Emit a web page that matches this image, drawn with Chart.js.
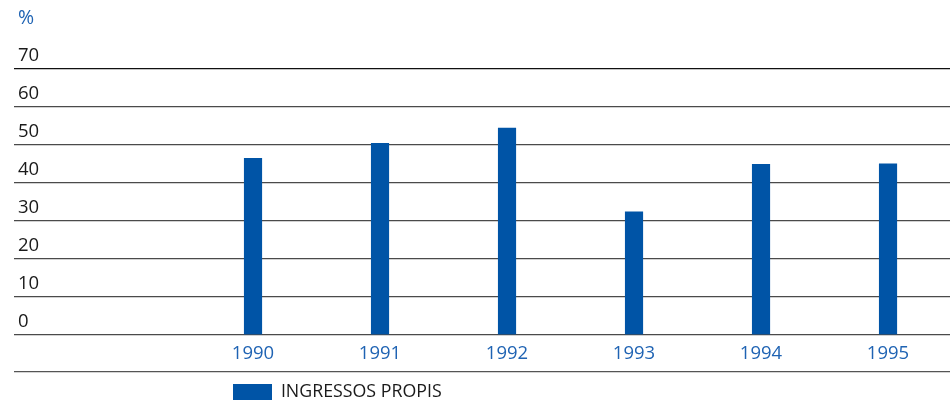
<!DOCTYPE html>
<html>
<head>
<meta charset="utf-8">
<script src="https://cdn.jsdelivr.net/npm/chart.js@4/dist/chart.umd.min.js"></script>
<style>
  html, body { margin: 0; padding: 0; background: #ffffff; }
  #wrap { width: 950px; height: 411px; position: relative; }
</style>
</head>
<body>
<div id="wrap"><canvas id="c"></canvas></div>
<script>
// ---- data ----
const years = [1990, 1991, 1992, 1993, 1994, 1995];
const ingressosPropis = [46.4, 50.3, 54.3, 32.3, 44.8, 44.9];
const seriesLabel = 'INGRESSOS PROPIS';
const yTicks = [0, 10, 20, 30, 40, 50, 60, 70];
const unitLabel = '%';

const BAR = '#0054a6';
const BLUE_TXT = '#1f63b3';
const FONT = '"Open Sans", "Noto Sans", sans-serif';

const points = years.map((y, i) => ({ x: y, y: ingressosPropis[i] }));

const extras = {
  id: 'extras',
  afterLayout(chart) {
    const lg = chart.legend;
    if (lg) { lg.left += 207.5; }
  },
  afterDraw(chart) {
    const ctx = chart.ctx;
    const ca = chart.chartArea;
    const xs = chart.scales.x;
    ctx.save();
    // bottom rule under year labels
    ctx.strokeStyle = '#555555';
    ctx.lineWidth = 1.3;
    ctx.beginPath();
    ctx.moveTo(ca.left, xs.bottom);
    ctx.lineTo(ca.right, xs.bottom);
    ctx.stroke();
    // unit label
    ctx.fillStyle = BLUE_TXT;
    ctx.font = '19.5px ' + FONT;
    ctx.textAlign = 'left';
    ctx.textBaseline = 'middle';
    ctx.fillText(unitLabel, ca.left + 4, ca.top - 50.5);
    ctx.restore();
  }
};

new Chart(document.getElementById('c'), {
  type: 'bar',
  data: {
    datasets: [{
      label: seriesLabel,
      data: points,
      backgroundColor: BAR,
      borderWidth: 0,
      barThickness: 17.5
    }]
  },
  options: {
    responsive: true,
    maintainAspectRatio: false,
    animation: false,
    layout: { padding: { top: 68.5, left: 14, right: 0, bottom: 0 } },
    plugins: {
      tooltip: { enabled: false },
      title: { display: false },
      legend: {
        display: true,
        position: 'bottom',
        align: 'start',
        labels: {
          boxWidth: 39,
          boxHeight: 16,
          padding: 11.5,
          color: '#1a1a1a',
          font: { family: FONT, size: 17.8 }
        }
      }
    },
    scales: {
      x: {
        type: 'linear',
        offset: false,
        min: 1988.118,
        max: 1995.488,
        grid: { display: false, drawTicks: false, offset: false },
        border: { display: false },
        afterBuildTicks(scale) { scale.ticks = years.map(v => ({ value: v })); },
        afterFit(scale) { scale.height = 37; },
        ticks: {
          color: BLUE_TXT,
          font: { family: FONT, size: 18.5 },
          padding: 8,
          maxRotation: 0,
          autoSkip: false,
          callback: v => String(v)
        }
      },
      y: {
        min: 0,
        max: 70,
        afterBuildTicks(scale) { scale.ticks = yTicks.map(v => ({ value: v })); },
        afterFit(scale) { scale.width = 0; },
        grid: {
          drawTicks: false,
          color: ctx => (ctx.tick && ctx.tick.value === 70) ? '#111111' : '#4a4a4a',
          lineWidth: 1.3
        },
        border: { display: false },
        ticks: {
          mirror: true,
          padding: 4,
          labelOffset: -12.5,
          color: '#1a1a1a',
          font: { family: FONT, size: 18.5 },
          callback: v => String(v)
        }
      }
    }
  },
  plugins: [extras]
});
</script>
</body>
</html>
